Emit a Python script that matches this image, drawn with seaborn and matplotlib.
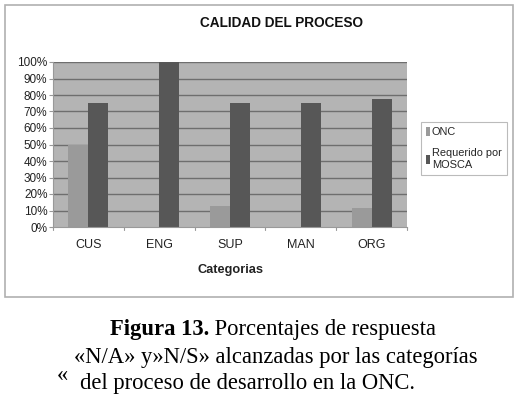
import matplotlib
matplotlib.use("Agg")
import matplotlib.pyplot as plt
import seaborn as sns
import pandas as pd
from matplotlib.patches import Rectangle

categories = ["CUS", "ENG", "SUP", "MAN", "ORG"]
onc = [50, 0, 12.5, 0, 11.5]
mosca = [75, 100, 75, 75, 77.5]
series_names = ["ONC", "Requerido por\nMOSCA"]
yticks = [0, 10, 20, 30, 40, 50, 60, 70, 80, 90, 100]

df = pd.DataFrame({
    "cat": categories * 2,
    "val": onc + mosca,
    "serie": [series_names[0]] * 5 + [series_names[1]] * 5,
})

sns.set_theme(style="white")
plt.rcParams["font.family"] = ["Liberation Sans", "DejaVu Sans"]

W, H = 526, 397
fig = plt.figure(figsize=(W / 100, H / 100), dpi=100)
fig.patch.set_facecolor("white")

def fx(x): return x / W
def fy(y): return 1 - y / H

ax = fig.add_axes([fx(53), fy(227), fx(407) - fx(53), fy(62) - fy(227)])
ax.set_facecolor("#b4b4b4")

colors = ["#9a9a9a", "#575757"]
sns.barplot(data=df, x="cat", y="val", hue="serie", palette=colors,
            width=0.565, ax=ax, legend=False, saturation=1,
            edgecolor="none", linewidth=0)

ax.set_ylim(0, 100)
ax.set_xlim(-0.5, 4.5)
ax.set_yticks(yticks)
ax.set_yticklabels([f"{t}%" for t in yticks], fontsize=8.5, color="#222222")
ax.set_xticks(range(5))
ax.set_xticklabels(categories, fontsize=9, color="#222222")
ax.tick_params(axis="x", length=0, pad=9)
ax.tick_params(axis="y", length=3, width=0.8, color="#999999", pad=1, left=True)
for y in yticks[1:]:
    ax.axhline(y, color="#6e6e6e", lw=1.0, zorder=0.5)
for x in [-0.5, 0.5, 1.5, 2.5, 3.5, 4.5]:
    ax.plot([x, x], [0, -2], color="#999999", lw=0.8, clip_on=False)
for s in ["top", "right"]:
    ax.spines[s].set_visible(False)
for s in ["left", "bottom"]:
    ax.spines[s].set_color("#999999")
    ax.spines[s].set_linewidth(0.8)
for p in ax.patches:
    p.set_zorder(2)

ax.set_xlabel("Categorias", fontsize=9.2, fontweight="bold", color="#222222", labelpad=9)
ax.set_ylabel("")

fig.text(fx(281), fy(23), "CALIDAD DEL PROCESO", ha="center", va="center",
         fontsize=9.8, fontweight="bold", color="#111111")

handles = [Rectangle((0, 0), 1, 1, facecolor=c, edgecolor="none") for c in colors]
leg = fig.legend(handles, series_names, loc="upper left",
                 bbox_to_anchor=(fx(421), fy(122)), fontsize=7.9,
                 frameon=True, fancybox=False, handlelength=0.4, handleheight=0.9,
                 handletextpad=0.15, borderpad=0.45, labelspacing=1.0,
                 borderaxespad=0)
leg.get_frame().set_edgecolor("#aaaaaa")
leg.get_frame().set_linewidth(0.8)

fig.patches.append(Rectangle((fx(5), fy(297)), fx(513) - fx(5), fy(5) - fy(297),
                             transform=fig.transFigure, fill=False,
                             edgecolor="#b0b0b0", linewidth=1.2))

serif = ["Liberation Serif", "DejaVu Serif"]
cap_fs = 16.3
t1 = fig.text(0, fy(330), "Figura 13.", ha="left", va="center", fontsize=cap_fs,
              fontweight="bold", family=serif, color="black")
t2 = fig.text(0, fy(330), " Porcentajes de respuesta", ha="left", va="center",
              fontsize=cap_fs, family=serif, color="black")
fig.canvas.draw()
r = fig.canvas.get_renderer()
w1 = t1.get_window_extent(r).width
w2 = t2.get_window_extent(r).width
start = 273 - (w1 + w2) / 2
t1.set_x(fx(start))
t2.set_x(fx(start + w1))
fig.text(fx(276), fy(357), "«N/A» y»N/S» alcanzadas por las categorías",
         ha="center", va="center", fontsize=cap_fs, family=serif, color="black")
fig.text(fx(248), fy(384), "del proceso de desarrollo en la ONC.",
         ha="center", va="center", fontsize=cap_fs, family=serif, color="black")
fig.text(fx(62), fy(376), "«", ha="center", va="center", fontsize=cap_fs,
         family=serif, color="black")

fig.savefig("out.png", dpi=100)
